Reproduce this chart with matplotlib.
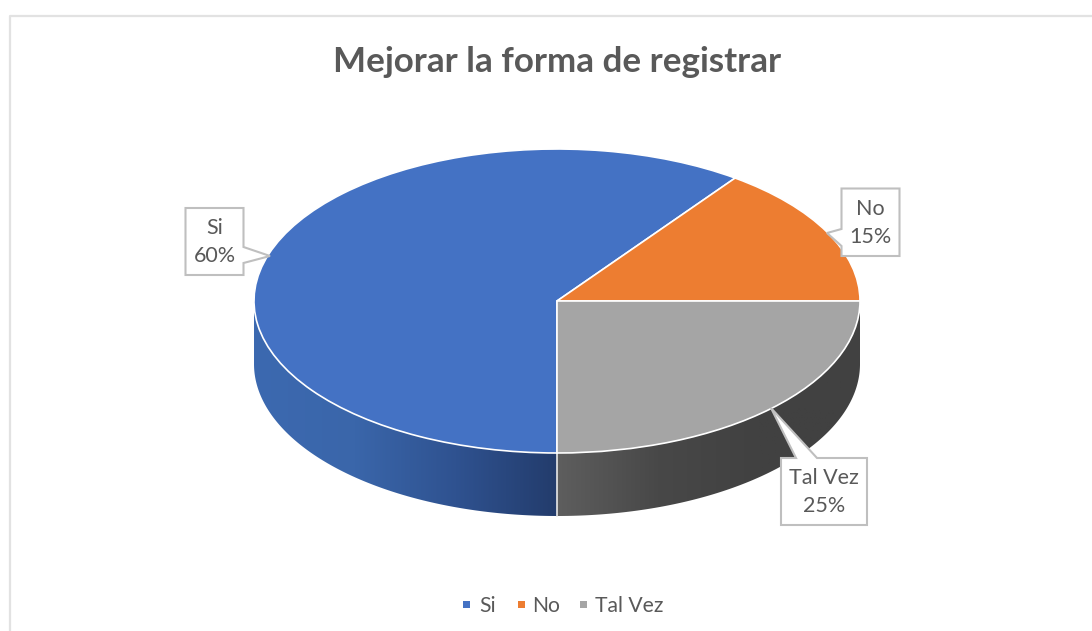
import matplotlib
matplotlib.use("Agg")
import matplotlib.pyplot as plt
import numpy as np
from matplotlib.colors import LinearSegmentedColormap
from matplotlib.patches import Polygon, Rectangle

plt.rcParams['font.family'] = ['Lato', 'DejaVu Sans']

categories = ['Si', 'No', 'Tal Vez']
values = [60, 15, 25]
colors = ['#4472c4', '#ed7d31', '#a5a5a5']
title = 'Mejorar la forma de registrar'

W, H = 1092, 631
cx, cy, rx, ry = 557, 301, 303, 152
depth = 63

fig = plt.figure(figsize=(W/100, H/100), dpi=100)

# pixel overlay
ax = fig.add_axes([0, 0, 1, 1], zorder=1)

# chart frame, no right edge in the crop
ax.plot([9.5, 9.5, W], [H, 15.5, 15.5], color='#e2e2e2', lw=1.6, zorder=1)

# side wall, horizontal gradient clipped to the front of each slice
side_ramps = {
    'Si': ['#3c69b0', '#3a66aa', '#2f5290', '#233c6c'],
    'Tal Vez': ['#5e5e5e', '#484848', '#414141', '#414141'],
}
start = 270.0
for name, val in zip(categories, values):
    end = start - val * 3.6
    # keep the part of the slice that lies on the lower half of the ellipse
    a0 = start
    a1 = max(end, 180) if start > 180 else start
    if name == 'Tal Vez':
        a0, a1 = end + 360, end + 360 + val * 3.6
    if name in side_ramps and a0 != a1:
        th = np.radians(np.linspace(a0, a1, 200))
        xs = cx + rx*np.cos(th)
        ys = cy - ry*np.sin(th)
        pts = np.r_[np.c_[xs, ys], np.c_[xs[::-1], ys[::-1] + depth]]
        poly = Polygon(pts, closed=True, facecolor='none', edgecolor='none')
        ax.add_patch(poly)
        cmap = LinearSegmentedColormap.from_list(name, side_ramps[name])
        grad = np.linspace(0, 1, 256).reshape(1, -1)
        if name == 'Si':
            ext = (cx-rx, cx, cy+ry+depth, cy)
        else:
            ext = (cx, cx+rx, cy+ry+depth, cy)
        im = ax.imshow(grad, cmap=cmap, extent=ext, aspect='auto', zorder=2)
        im.set_clip_path(poly)
    start = end
ax.plot([cx, cx], [cy+ry, cy+ry+depth], color='#e8e8e8', lw=1.2, zorder=3)

ax.set_xlim(0, W)
ax.set_ylim(H, 0)
ax.axis('off')

# top of the pie
pie_ax = fig.add_axes([(cx-rx)/W, 1-(cy+ry)/H, 2*rx/W, 2*ry/H], zorder=2)
pie_ax.pie(values, colors=colors, startangle=270, counterclock=False, radius=1,
           wedgeprops={'edgecolor': 'white', 'linewidth': 1.2})
pie_ax.set_aspect('auto')
pie_ax.set_xlim(-1, 1)
pie_ax.set_ylim(-1, 1)
pie_ax.patch.set_alpha(0)
for p in pie_ax.patches:
    p.set_clip_on(False)

# callouts on top
top = fig.add_axes([0, 0, 1, 1], zorder=3)
top.set_xlim(0, W)
top.set_ylim(H, 0)
top.axis('off')

box_x = {'Si': (185.5, 243.5), 'No': (841.5, 899.5), 'Tal Vez': (781, 867)}
box_y = {'Si': (208, 275), 'No': (188.5, 256), 'Tal Vez': (458, 525)}
tips = {'Si': (270, 256), 'No': (827, 233), 'Tal Vez': (771, 408)}
gaps = {'Si': ('r', 247, 263), 'No': ('l', 229, 246), 'Tal Vez': ('t', 796, 817)}

for name, val in zip(categories, values):
    x0, x1 = box_x[name]
    y0, y1 = box_y[name]
    side, a, b = gaps[name]
    tip = tips[name]
    if side == 'r':
        pts = [(x0, y0), (x1, y0), (x1, a), tip, (x1, b), (x1, y1), (x0, y1)]
    elif side == 'l':
        pts = [(x0, y0), (x1, y0), (x1, y1), (x0, y1), (x0, b), tip, (x0, a)]
    else:
        pts = [(x0, y0), (a, y0), tip, (b, y0), (x1, y0), (x1, y1), (x0, y1)]
    top.add_patch(Polygon(pts, closed=True, facecolor='white', edgecolor='#bfbfbf', lw=1.5, zorder=5))
    top.text((x0+x1)/2, (y0+y1)/2 + 0.5, f'{name}\n{val}%', ha='center', va='center',
             fontsize=15.5, color='#595959', linespacing=1.5, zorder=6)

top.text(557, 62, title, ha='center', va='center', fontsize=25.2, fontweight='bold', color='#595959')

# legend
leg_sq = [466, 521, 583]
leg_tx = [479, 532, 595]
for name, c, sx, tx in zip(categories, colors, leg_sq, leg_tx):
    top.add_patch(Rectangle((sx-3.5, 601), 7, 7, facecolor=c, edgecolor='none'))
    top.text(tx, 605.5, name, ha='left', va='center', fontsize=15.2, color='#595959')

fig.savefig('out.png', dpi=100)
